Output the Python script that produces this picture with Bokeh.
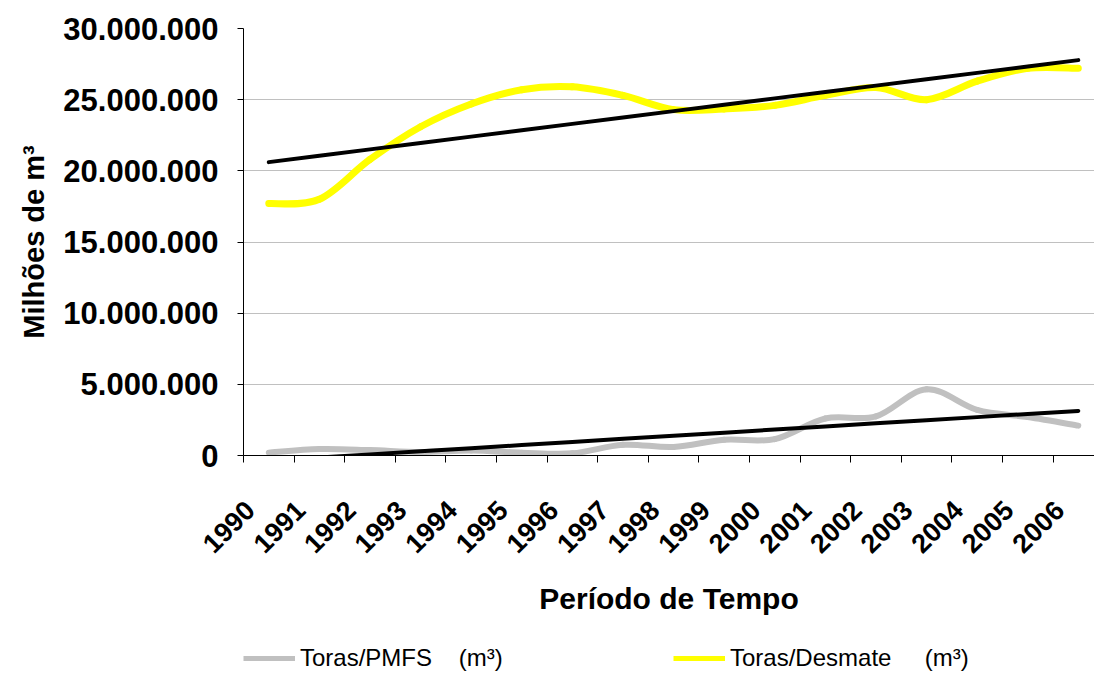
import numpy as np
from bokeh.plotting import figure
from bokeh.layouts import column
from bokeh.models import FixedTicker, Range1d, Legend, LegendItem, ColumnDataSource
from bokeh.embed import file_html
from bokeh.resources import INLINE

# ---------------- data ----------------
years = ["1990", "1991", "1992", "1993", "1994", "1995", "1996", "1997", "1998",
         "1999", "2000", "2001", "2002", "2003", "2004", "2005", "2006"]
toras_pmfs = [200000, 450000, 380000, 250000, 350000, 200000, 150000, 750000, 600000,
              1100000, 1150000, 2600000, 2750000, 4650000, 3200000, 2700000, 2100000]
toras_desmate = [17700000, 18000000, 20800000, 23100000, 24700000, 25700000, 25900000,
                 25300000, 24300000, 24350000, 24600000, 25300000, 25850000, 25000000,
                 26300000, 27200000, 27200000]
y_ticks = [0, 5000000, 10000000, 15000000, 20000000, 25000000, 30000000]
y_tick_labels = ["0", "5.000.000", "10.000.000", "15.000.000", "20.000.000",
                 "25.000.000", "30.000.000"]
series_labels = ["Toras/PMFS\u00a0\u00a0\u00a0\u00a0(m³)", "Toras/Desmate\u00a0\u00a0\u00a0\u00a0\u00a0(m³)"]
series_colors = ["#C0C0C0", "#FFFF00"]

FONT = "Liberation Sans"
xs = np.arange(len(years), dtype=float)


def smooth_source(x, y):
    """Excel-style smoothed line: cubic Bezier segments through the data points."""
    x = np.asarray(x, float)
    y = np.asarray(y, float)
    n = len(x)
    xp = np.concatenate([[x[0]], x, [x[-1]]])
    yp = np.concatenate([[y[0]], y, [y[-1]]])
    d = dict(x0=[], y0=[], x1=[], y1=[], cx0=[], cy0=[], cx1=[], cy1=[])
    for i in range(n - 1):
        j = i + 1
        d["x0"].append(xp[j]); d["y0"].append(yp[j])
        d["x1"].append(xp[j + 1]); d["y1"].append(yp[j + 1])
        d["cx0"].append(xp[j] + (xp[j + 1] - xp[j - 1]) / 6.0)
        d["cy0"].append(yp[j] + (yp[j + 1] - yp[j - 1]) / 6.0)
        d["cx1"].append(xp[j + 1] - (xp[j + 2] - xp[j]) / 6.0)
        d["cy1"].append(yp[j + 1] - (yp[j + 2] - yp[j]) / 6.0)
    return ColumnDataSource(d)


p = figure(width=1094, height=648,
           x_range=Range1d(-0.5, 16.32), y_range=Range1d(0, 30000000),
           output_backend="svg", toolbar_location=None,
           min_border_left=243, min_border_top=28, min_border_right=0,
           min_border_bottom=193)
p.outline_line_color = None
p.background_fill_color = "white"
p.border_fill_color = "white"

# series (smoothed)
p.bezier(x0="x0", y0="y0", x1="x1", y1="y1", cx0="cx0", cy0="cy0",
         cx1="cx1", cy1="cy1", source=smooth_source(xs, toras_pmfs),
         line_color=series_colors[0], line_width=6, line_cap="round", line_join="round")
p.bezier(x0="x0", y0="y0", x1="x1", y1="y1", cx0="cx0", cy0="cy0",
         cx1="cx1", cy1="cy1", source=smooth_source(xs, toras_desmate),
         line_color=series_colors[1], line_width=7, line_cap="round", line_join="round")

# linear trend lines
for series in (toras_desmate, toras_pmfs):
    k, b = np.polyfit(xs, np.asarray(series, float), 1)
    p.line(x=xs, y=k * xs + b, line_color="black", line_width=4, line_cap="round")

# ---------------- axes ----------------
shift = 0.375
xt = [i - shift for i in range(len(years))]
p.xaxis.ticker = FixedTicker(ticks=xt, minor_ticks=[i - 0.5 for i in range(len(years) + 1)])
p.xaxis.major_label_overrides = {t: years[i] for i, t in enumerate(xt)}
p.xaxis.major_label_orientation = np.pi / 4
p.xaxis.major_tick_out = 0
p.xaxis.major_tick_in = 0
p.xaxis.minor_tick_out = 7
p.xaxis.minor_tick_in = 0
p.xaxis.minor_tick_line_color = "black"
p.xaxis.axis_line_color = "black"
p.xaxis.major_label_text_font = FONT
p.xaxis.major_label_text_font_size = "27px"
p.xaxis.major_label_text_font_style = "bold"
p.xaxis.major_label_text_color = "black"
p.xaxis.major_label_standoff = 43
p.xaxis.axis_label = "Período de Tempo"
p.xaxis.axis_label_text_font = FONT
p.xaxis.axis_label_text_font_size = "30px"
p.xaxis.axis_label_text_font_style = "bold"
p.xaxis.axis_label_text_color = "black"
p.xaxis.axis_label_standoff = 18

p.yaxis.ticker = FixedTicker(ticks=y_ticks, minor_ticks=[])
p.yaxis.major_label_overrides = {t: lab for t, lab in zip(y_ticks, y_tick_labels)}
p.yaxis.major_tick_out = 6
p.yaxis.major_tick_in = 0
p.yaxis.major_tick_line_color = "black"
p.yaxis.axis_line_color = "black"
p.yaxis.major_label_text_font = FONT
p.yaxis.major_label_text_font_size = "31px"
p.yaxis.major_label_text_font_style = "bold"
p.yaxis.major_label_text_color = "black"
p.yaxis.major_label_standoff = 19
p.yaxis.axis_label = "Milhões de m³"
p.yaxis.axis_label_text_font = FONT
p.yaxis.axis_label_text_font_size = "29px"
p.yaxis.axis_label_text_font_style = "bold"
p.yaxis.axis_label_text_color = "black"
p.yaxis.axis_label_standoff = 10

p.xgrid.visible = False
p.ygrid.ticker = FixedTicker(ticks=y_ticks)
p.ygrid.grid_line_color = "#C0C0C0"
p.ygrid.grid_line_width = 1

# ---------------- legend strip ----------------
leg = figure(width=1094, height=27, x_range=Range1d(0, 1), y_range=Range1d(-2, -1),
             output_backend="svg", toolbar_location=None,
             x_axis_type=None, y_axis_type=None, min_border=0)
leg.outline_line_color = None
leg.xgrid.visible = False
leg.ygrid.visible = False
leg_items = []
for lab, col, series in zip(series_labels, series_colors, (toras_pmfs, toras_desmate)):
    r = leg.line(x=xs, y=series, line_color=col, line_width=5)
    leg_items.append(LegendItem(label=lab, renderers=[r]))
legend = Legend(items=leg_items, location=(0, 3), orientation="horizontal",
                spacing=161, padding=0, margin=0,
                border_line_color=None, background_fill_alpha=0,
                glyph_width=52, glyph_height=20, label_height=20, label_width=212,
                label_standoff=5, label_text_font=FONT, label_text_font_size="24px",
                label_text_color="black")
leg.add_layout(legend, "center")

layout = column(p, leg, spacing=0)
open("out.html", "w").write(file_html(layout, INLINE))
